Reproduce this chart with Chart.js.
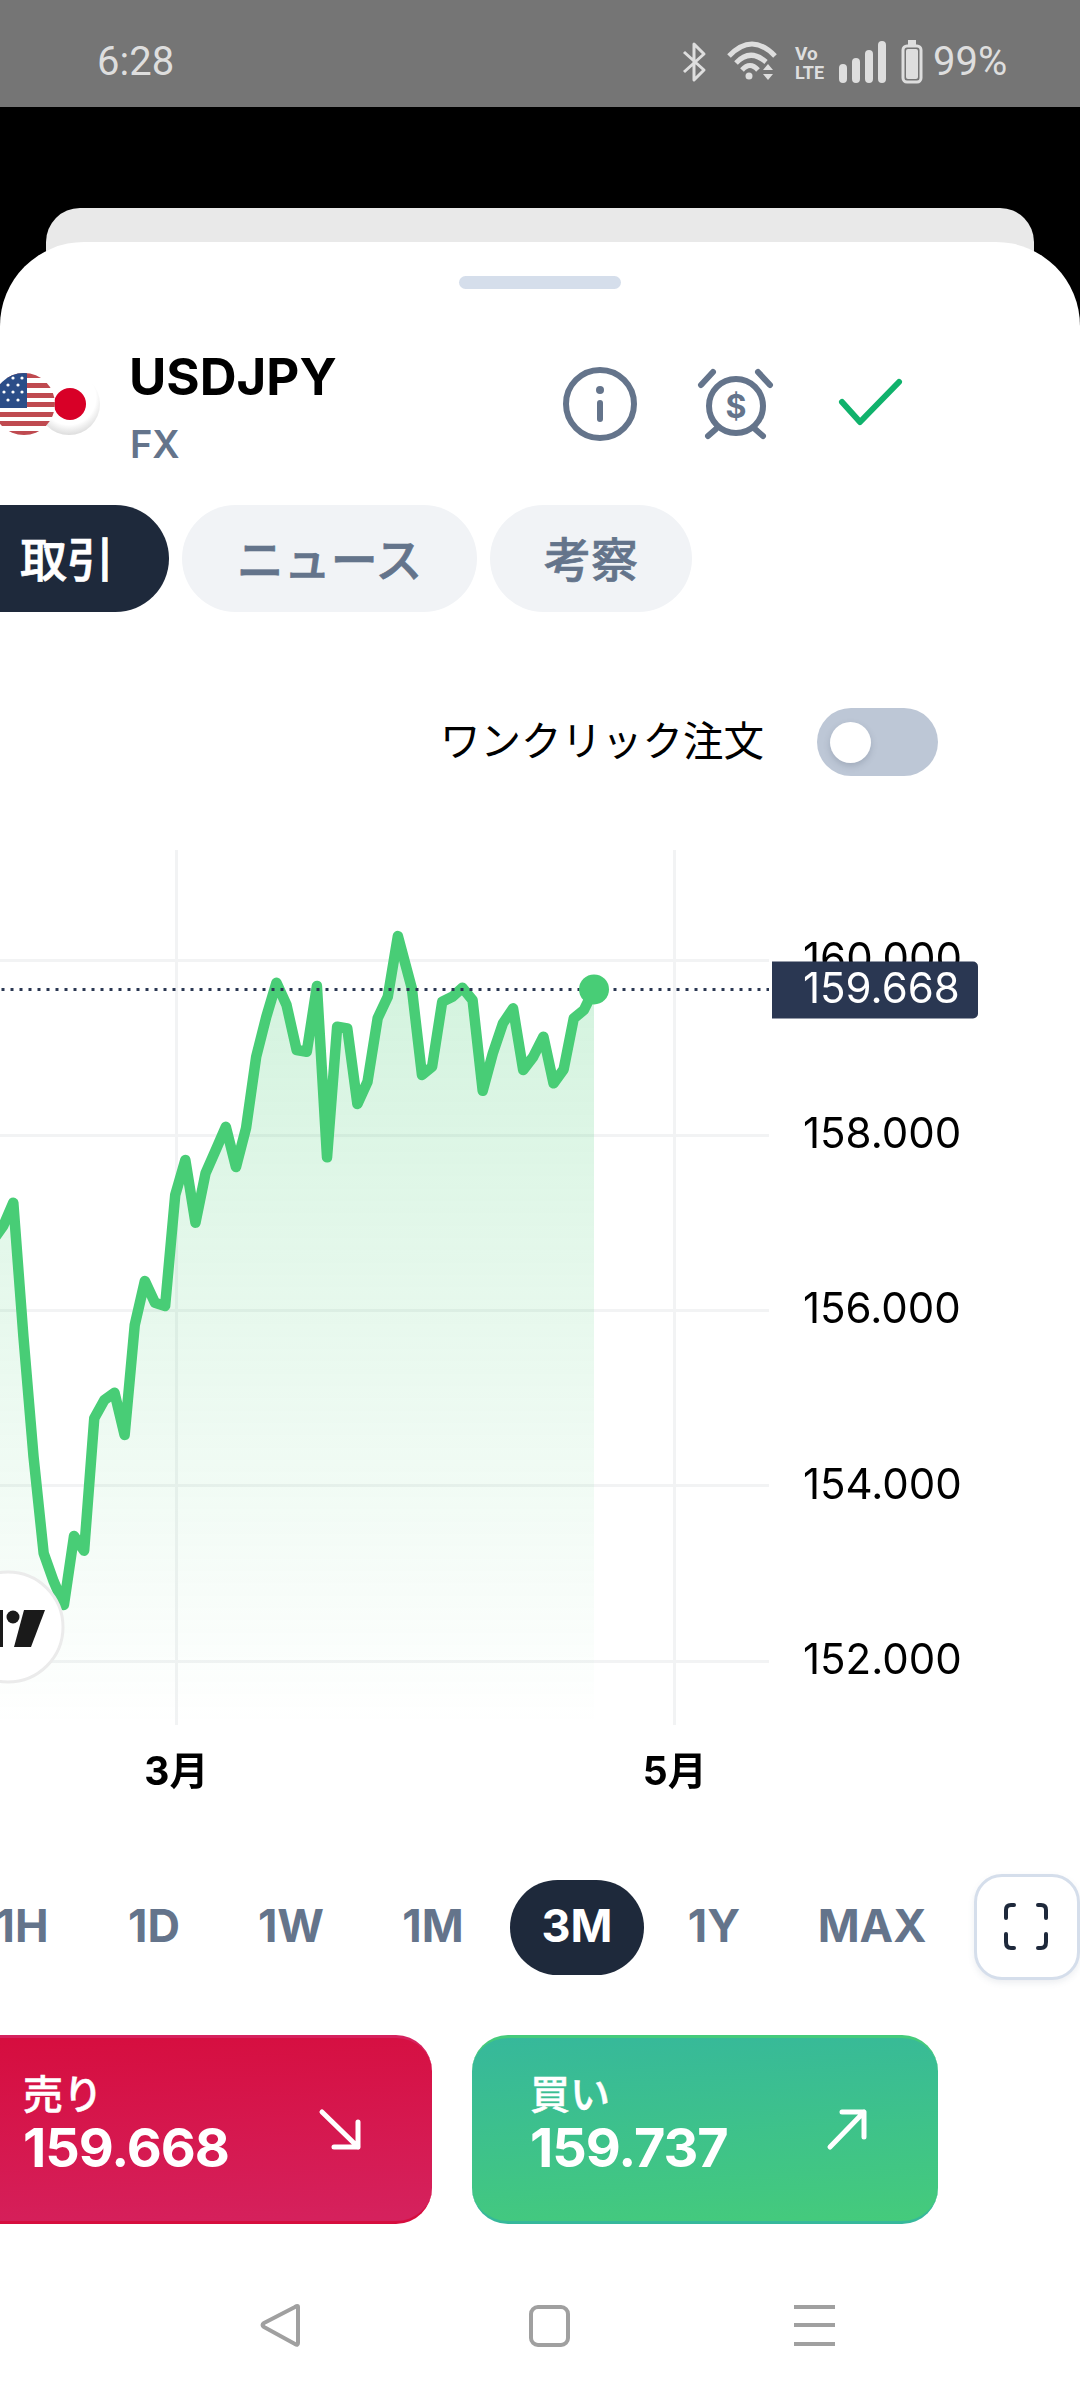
<!DOCTYPE html>
<html lang="ja">
<head>
<meta charset="utf-8">
<title>USDJPY</title>
<script src="https://cdn.jsdelivr.net/npm/chart.js@4"></script>
<style>
    * { box-sizing: border-box; }
    html, body { margin: 0; width: 1080px; height: 2400px; overflow: hidden; background: #000; }
    body { position: relative; font-family: Inter, "Noto Sans CJK JP", sans-serif; }
    .abs { position: absolute; white-space: nowrap; }
    .status { left: 0; top: 0; width: 1080px; height: 107px; background: #757575; }
    .status-text { font: 400 40px Roboto, sans-serif; color: #dedede; top: 40px; line-height: 44px; }
    .back-card { left: 46px; top: 208px; width: 988px; height: 120px; background: #e9e9e9; border-radius: 34px 34px 0 0; }
    .sheet { left: 0; top: 242px; width: 1080px; height: 2158px; background: #fff; border-radius: 84px 84px 0 0; }
    .handle { left: 459px; top: 276px; width: 162px; height: 13px; background: #d5deeb; border-radius: 7px; }
    .pill { top: 505px; height: 107px; border-radius: 54px; background: #f1f3f6; color: #64748b; font: 500 47px "Noto Sans CJK JP", sans-serif; -webkit-text-stroke: .7px currentColor; line-height: 104px; text-align: center; }
    .pill.on { background: #1e293b; color: #fff; }
    .range { top: 1899px; font-weight: 700; font-size: 45px; line-height: 54px; color: #64748b; transform: translateX(-50%); }
    .trade { top: 2035px; height: 189px; color: #fff; }
    .trade-label { top: 2067px; font: 500 40px "Noto Sans CJK JP", sans-serif; -webkit-text-stroke: .5px currentColor; line-height: 50px; color: #fff; }
    .trade-price { top: 2116px; font-weight: 700; font-size: 54px; letter-spacing: -1px; line-height: 64px; color: #fff; }
    #priceChart { position: absolute; left: 0; top: 850px; }
    svg.abs { overflow: visible; }
</style>
</head>
<body>

<div class="abs status"></div>
<div class="abs status-text" style="left:97px">6:28</div>
<div class="abs status-text" style="left:933px">99%</div>
<svg class="abs" style="left:0;top:0" width="1080" height="107" fill="none" stroke="#dedede">
    <path d="M684 52 L704 70 L694 80 V44 L704 54 L684 72" stroke-width="3" stroke-linejoin="round"/>
    <path d="M729 56 Q752 32 775 56" stroke-width="5"/>
    <path d="M736 63 Q750 48 766 62" stroke-width="5"/>
    <path d="M742 70 Q750 61 758 70" stroke-width="5"/>
    <circle cx="749" cy="76" r="3.5" fill="#dedede" stroke="none"/>
    <path d="M763 70 L768 64 L773 70 Z M763 74 L768 80 L773 74 Z" fill="#dedede" stroke="none"/>
    <text x="795" y="60" font-family="Roboto" font-size="19" font-weight="700" fill="#dedede" stroke="none">Vo</text>
    <text x="795" y="79" font-family="Roboto" font-size="18" font-weight="700" fill="#dedede" stroke="none">LTE</text>
    <path d="M843 79 V68 M856 79 V62 M869 79 V54 M882 79 V45" stroke-width="8" stroke-linecap="round"/>
    <rect x="903" y="46" width="18" height="36" rx="4" stroke-width="3"/>
    <rect x="906" y="49" width="12" height="30" rx="2" fill="#dedede" stroke="none"/>
    <rect x="908" y="40" width="8" height="5" fill="#dedede" stroke="none"/>
</svg>

<div class="abs back-card"></div>
<div class="abs sheet"></div>
<div class="abs handle"></div>

<svg class="abs" style="left:0;top:360px" width="110" height="90">
    <defs>
        <clipPath id="usClip"><circle cx="24" cy="44" r="31"/></clipPath>
        <radialGradient id="jpDisc" cx="0.5" cy="0.4" r="0.62">
            <stop offset="0.7" stop-color="#ffffff"/>
            <stop offset="1" stop-color="#d9d9d9"/>
        </radialGradient>
    </defs>
    <circle cx="69" cy="44" r="31" fill="url(#jpDisc)"/>
    <circle cx="70" cy="44" r="16" fill="#d80027"/>
    <g clip-path="url(#usClip)">
        <rect x="-10" y="10" width="70" height="70" fill="#fff"/>
        <g fill="#bf4a50">
            <rect x="-10" y="13" width="70" height="5"/>
            <rect x="-10" y="23" width="70" height="5"/>
            <rect x="-10" y="33" width="70" height="5"/>
            <rect x="-10" y="42" width="70" height="5"/>
            <rect x="-10" y="52" width="70" height="5"/>
            <rect x="-10" y="61" width="70" height="5"/>
            <rect x="-10" y="71" width="70" height="5"/>
        </g>
        <rect x="-10" y="10" width="37" height="38" fill="#2b4d88"/>
        <g fill="#fff">
            <circle cx="4" cy="18" r="1.6"/><circle cx="13" cy="18" r="1.6"/><circle cx="22" cy="18" r="1.6"/>
            <circle cx="8" cy="25" r="1.6"/><circle cx="18" cy="25" r="1.6"/>
            <circle cx="4" cy="32" r="1.6"/><circle cx="13" cy="32" r="1.6"/><circle cx="22" cy="32" r="1.6"/>
            <circle cx="8" cy="40" r="1.6"/><circle cx="18" cy="40" r="1.6"/>
        </g>
    </g>
</svg>

<div class="abs" style="left:129px;top:347px;font-weight:700;font-size:51px;line-height:60px;color:#000">USDJPY</div>
<div class="abs" style="left:130px;top:420px;font-weight:600;font-size:38px;line-height:48px;color:#64748b">FX</div>

<svg class="abs" style="left:0;top:0" width="1080" height="500" fill="none" stroke="#64748b" stroke-linecap="round" stroke-linejoin="round">
    <circle cx="600" cy="404" r="34" stroke-width="6"/>
    <circle cx="600" cy="390" r="4" fill="#64748b" stroke="none"/>
    <path d="M600 403 V419" stroke-width="6"/>
    <circle cx="736" cy="406" r="27" stroke-width="6"/>
    <path d="M701 385 L713 372 M770 385 L758 372 M708 436 L716 429 M763 436 L755 429" stroke-width="6"/>
    <text x="736" y="418" text-anchor="middle" font-family="Inter" font-weight="700" font-size="32" fill="#64748b" stroke="none">$</text>
    <path d="M842 402 L860 422 L899 382" stroke="#10b26c" stroke-width="6"/>
</svg>

<div class="abs pill on" style="left:-60px;width:229px;padding-right:0;text-align:left;padding-left:80px">取引</div>
<div class="abs pill" style="left:182px;width:295px">ニュース</div>
<div class="abs pill" style="left:490px;width:202px">考察</div>

<div class="abs" style="left:440px;top:712px;font:400 40.5px 'Noto Sans CJK JP',sans-serif;line-height:54px;color:#000">ワンクリック注文</div>
<div class="abs" style="left:817px;top:708px;width:121px;height:68px;border-radius:34px;background:#bdc7d6"></div>
<div class="abs" style="left:830px;top:722px;width:41px;height:41px;border-radius:50%;background:#fff;box-shadow:0 3px 6px rgba(80,90,110,.25)"></div>

<canvas id="priceChart" width="1080" height="955"></canvas>

<svg class="abs" style="left:0;top:1560px" width="80" height="130">
    <circle cx="8" cy="67" r="55" fill="#fff" stroke="#ebebeb" stroke-width="3"/>
    <path d="M24 50 H45 L31 87 H14 Z" fill="#1a1a1a"/>
    <circle cx="13" cy="57" r="6.5" fill="#1a1a1a"/>
    <rect x="0" y="50" width="3" height="37" fill="#1a1a1a"/>
</svg>

<div class="abs range" style="left:22px">1H</div>
<div class="abs range" style="left:154px">1D</div>
<div class="abs range" style="left:291px">1W</div>
<div class="abs range" style="left:433px">1M</div>
<div class="abs" style="left:510px;top:1880px;width:134px;height:95px;border-radius:48px;background:#1e293b"></div>
<div class="abs range" style="left:577px;color:#fff">3M</div>
<div class="abs range" style="left:714px">1Y</div>
<div class="abs range" style="left:872px">MAX</div>
<div class="abs" style="left:974px;top:1874px;width:106px;height:106px;border-radius:28px;background:#fff;border:3px solid #d5deeb;box-shadow:0 3px 6px rgba(100,116,139,.12)"></div>
<svg class="abs" style="left:0;top:1880px" width="1080" height="90" fill="none" stroke="#1e293b" stroke-width="4" stroke-linecap="round">
    <path d="M1006 38 V30 Q1006 25 1011 25 H1014"/>
    <path d="M1046 38 V30 Q1046 25 1041 25 H1038"/>
    <path d="M1006 54 V62 Q1006 68 1011 68 H1014"/>
    <path d="M1046 54 V62 Q1046 68 1041 68 H1038"/>
</svg>

<div class="abs trade" style="left:-40px;width:472px;border-radius:36px;border-top:3px solid #d5225e;border-bottom:3px solid #d60d3e;background:linear-gradient(176deg,#d60d3e,#d5225e)"></div>
<div class="abs trade" style="left:472px;width:466px;border-radius:36px;border-top:3px solid #45cb7b;border-bottom:3px solid #36b89b;background:linear-gradient(176deg,#36b89b,#45cb7b)"></div>
<div class="abs trade-label" style="left:23px">売り</div>
<div class="abs trade-price" style="left:23px">159.668</div>
<div class="abs trade-label" style="left:530px">買い</div>
<div class="abs trade-price" style="left:530px">159.737</div>
<svg class="abs" style="left:0;top:2100px" width="1080" height="60" fill="none" stroke="#fff" stroke-width="5" stroke-linecap="round" stroke-linejoin="round">
    <path d="M322 12 L358 47 M358 22 V47 H334"/>
    <path d="M830 47 L864 12 M842 12 H864 V37"/>
</svg>

<svg class="abs" style="left:0;top:2290px" width="1080" height="70" fill="none" stroke="#a0a0a0" stroke-width="4" stroke-linejoin="round">
    <path d="M298 17 V53 Q298 56 295 54 L264 37 Q261 35 264 33 L295 17 Q298 15 298 17 Z"/>
    <rect x="531" y="17" width="37" height="38" rx="7"/>
    <path d="M794 17 H835 M794 35 H835 M794 54 H835"/>
</svg>

<script>
// position of each close along the time axis, last one is the live price
const sessionPos = [-2, -1, 0, 1, 2, 3, 4, 5, 6, 7, 8, 9, 10, 11, 12, 13, 14, 15, 16, 17, 18, 19, 20, 21, 22, 23, 24, 25, 26, 27, 28, 29, 30, 31, 32, 33, 34, 35, 36, 37, 38, 39.38, 40.38, 41.38, 42.38, 43.38, 44.38, 45.38, 46.38, 47.38, 48.38, 49.38, 50.38, 51.38, 52.38, 53.38, 54.38, 55.38, 56.38, 57.38];
const closes = [156.807, 156.967, 157.233, 155.703, 154.333, 153.231, 152.906, 152.640, 153.428, 153.260, 154.772, 154.981, 155.064, 154.581, 155.837, 156.339, 156.091, 156.054, 157.321, 157.720, 157.005, 157.572, 157.834, 158.100, 157.640, 158.086, 158.900, 159.356, 159.744, 159.490, 158.976, 158.957, 159.707, 157.751, 159.242, 159.224, 158.360, 158.614, 159.338, 159.584, 160.277, 159.680, 158.691, 158.785, 159.527, 159.584, 159.687, 159.547, 158.511, 158.938, 159.281, 159.452, 158.748, 158.900, 159.128, 158.596, 158.756, 159.338, 159.433, 159.668];
const priceTicks = [152, 154, 156, 158, 160];
const monthLabels = ['3月', '5月'];
const monthPos = [16.12, 65.36];
const lastPrice = 159.668;

const xMin = -1.314;
const xMax = 74.67;
const yMin = 151.27;
const yMax = 161.26;

const LINE_GREEN = '#48cd76';
const NAVY = '#2a3752';
const FONT = 'Inter, "Noto Sans CJK JP", sans-serif';

const canvas = document.getElementById('priceChart');
const ctx = canvas.getContext('2d');

const gradient = ctx.createLinearGradient(0, 86, 0, 875);
gradient.addColorStop(0, 'rgba(72, 205, 118, 0.25)');
gradient.addColorStop(1, 'rgba(72, 205, 118, 0.0)');

// dark tag sitting on the axis with the live price
const priceTag = {
    id: 'priceTag',
    afterDraw(chart) {
        const c = chart.ctx;
        const y = chart.scales.y.getPixelForValue(lastPrice);
        c.save();
        c.fillStyle = NAVY;
        c.beginPath();
        c.roundRect(772, y - 28, 206, 57, [0, 5, 5, 0]);
        c.fill();
        c.fillStyle = '#fff';
        c.font = '400 42px ' + FONT;
        c.textAlign = 'left';
        c.textBaseline = 'middle';
        c.fillText(lastPrice.toFixed(3), 803, y + 1);
        c.restore();
    }
};

// axis sizes are fixed so the plot area lines up with the page
function noAxisPadding(axis) {
    axis.paddingTop = 0;
    axis.paddingBottom = 0;
    axis.paddingLeft = 0;
    axis.paddingRight = 0;
}

new Chart(canvas, {
    type: 'line',
    plugins: [priceTag],
    data: {
        datasets: [
            {
                data: [{ x: sessionPos[sessionPos.length - 1], y: lastPrice }],
                pointRadius: 15,
                pointBackgroundColor: LINE_GREEN,
                pointBorderWidth: 0,
                showLine: false,
                order: 0
            },
            {
                data: [{ x: xMin, y: lastPrice }, { x: xMax, y: lastPrice }],
                borderColor: NAVY,
                borderWidth: 3,
                borderDash: [3, 6],
                borderDashOffset: 7.5,
                pointRadius: 0,
                fill: false,
                order: 1
            },
            {
                data: sessionPos.map((x, i) => ({ x: x, y: closes[i] })),
                borderColor: LINE_GREEN,
                backgroundColor: gradient,
                borderWidth: 10.5,
                borderJoinStyle: 'round',
                borderCapStyle: 'round',
                pointRadius: 0,
                tension: 0,
                fill: 'start',
                order: 2
            }
        ]
    },
    options: {
        responsive: false,
        animation: false,
        devicePixelRatio: 1,
        layout: { padding: 0, autoPadding: false },
        plugins: {
            legend: { display: false },
            tooltip: { enabled: false }
        },
        scales: {
            x: {
                type: 'linear',
                min: xMin,
                max: xMax,
                border: { display: false },
                grid: { color: '#f2f3f4', lineWidth: 3, drawTicks: false },
                afterBuildTicks: axis => { axis.ticks = monthPos.map(v => ({ value: v })); },
                afterFit: axis => { axis.height = 80; noAxisPadding(axis); },
                ticks: {
                    autoSkip: false,
                    maxRotation: 0,
                    padding: 25,
                    color: '#000',
                    font: { family: FONT, size: 39, weight: '700' },
                    callback: value => monthLabels[monthPos.indexOf(value)]
                }
            },
            y: {
                position: 'right',
                min: yMin,
                max: yMax,
                border: { display: false },
                grid: { color: '#f2f3f4', lineWidth: 3, drawTicks: false },
                afterBuildTicks: axis => { axis.ticks = priceTicks.map(v => ({ value: v })); },
                afterFit: axis => { axis.width = 311; noAxisPadding(axis); },
                ticks: {
                    padding: 34,
                    crossAlign: 'near',
                    color: '#000',
                    font: { family: FONT, size: 42, weight: '400' },
                    callback: value => value.toFixed(3)
                }
            }
        }
    }
});
</script>
</body>
</html>
